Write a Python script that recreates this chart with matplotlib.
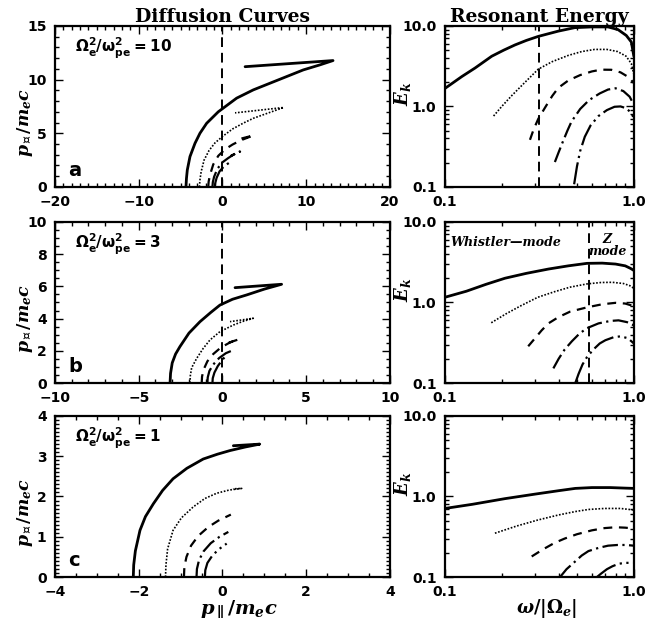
import numpy as np
import matplotlib
matplotlib.use("Agg")
import matplotlib.pyplot as plt
from matplotlib.ticker import MultipleLocator, FixedLocator, LogLocator, NullFormatter

plt.rcParams['font.family'] = 'DejaVu Sans'
plt.rcParams['font.weight'] = 'bold'
plt.rcParams['mathtext.fontset'] = 'custom'
plt.rcParams['mathtext.it'] = 'DejaVu Serif:italic:bold'
plt.rcParams['mathtext.rm'] = 'DejaVu Serif:bold'
plt.rcParams['mathtext.sf'] = 'DejaVu Sans:bold'
plt.rcParams['mathtext.bf'] = 'STIXGeneral:bold'
plt.rcParams['mathtext.fallback'] = 'stix'

# ---- diffusion curves (p_par, p_perp), each curve ends with its return hook
# panel a  (Omega_e^2/omega_pe^2 = 10)
a1_x = [-4.36, -4.3, -4.2, -3.88, -3.28, -2.69, -1.89, -0.5, 1.69, 3.68, 5.67, 7.66, 9.65, 11.64, 13.2, 2.7]
a1_y = [0.0, 0.8, 1.58, 2.83, 4.07, 5.0, 5.93, 7.0, 8.27, 9.04, 9.66, 10.28, 10.9, 11.37, 11.77, 11.2]
a2_x = [-2.75, -2.7, -2.55, -2.2, -1.6, -0.9, 0.0, 1.2, 2.5, 3.7, 5.5, 7.3, 1.5]
a2_y = [0.0, 0.6, 1.4, 2.5, 3.4, 4.1, 4.7, 5.4, 5.95, 6.4, 6.9, 7.4, 6.9]
a3_x = [-1.7, -1.65, -1.5, -1.1, -0.5, 0.3, 1.2, 2.2, 3.7, 1.7]
a3_y = [0.0, 0.5, 1.1, 2.1, 2.9, 3.5, 3.95, 4.35, 4.8, 4.4]
a4_x = [-1.2, -1.15, -1.0, -0.6, 0.0, 0.7, 1.4, 2.1, 1.0]
a4_y = [0.0, 0.45, 0.95, 1.7, 2.3, 2.7, 3.05, 3.3, 2.9]
a5_x = [-0.9, -0.85, -0.7, -0.35, 0.1, 0.6, 1.1]
a5_y = [0.0, 0.4, 0.85, 1.45, 1.85, 2.15, 2.4]

# panel b  (Omega_e^2/omega_pe^2 = 3)
b1_x = [-3.13, -3.1, -3.0, -2.8, -2.54, -2.0, -1.34, -0.7, -0.15, 0.6, 1.45, 2.5, 3.53, 0.75]
b1_y = [0.0, 0.6, 1.25, 1.8, 2.26, 3.1, 3.81, 4.38, 4.84, 5.2, 5.47, 5.83, 6.13, 5.92]
b2_x = [-1.94, -1.92, -1.84, -1.54, -1.15, -0.75, -0.15, 0.65, 1.2, 1.84, 0.45]
b2_y = [0.0, 0.45, 0.95, 1.53, 2.15, 2.67, 3.19, 3.6, 3.82, 4.02, 3.81]
b3_x = [-1.24, -1.22, -1.12, -0.9, -0.55, -0.1, 0.45, 0.94, 0.25]
b3_y = [0.0, 0.4, 0.85, 1.35, 1.8, 2.2, 2.52, 2.7, 2.46]
b4_x = [-0.9, -0.88, -0.78, -0.55, -0.2, 0.2, 0.65]
b4_y = [0.0, 0.35, 0.75, 1.15, 1.55, 1.85, 2.05]
b5_x = [-0.6, -0.58, -0.48, -0.28, 0.0, 0.25]
b5_y = [0.0, 0.3, 0.65, 1.05, 1.45, 1.74]

# panel c  (Omega_e^2/omega_pe^2 = 1)
c1_x = [-2.13, -2.12, -2.08, -1.97, -1.84, -1.65, -1.43, -1.18, -0.85, -0.46, -0.12, 0.18, 0.55, 0.89, 0.26]
c1_y = [0.0, 0.3, 0.65, 1.16, 1.5, 1.82, 2.15, 2.44, 2.7, 2.93, 3.05, 3.14, 3.23, 3.3, 3.26]
c2_x = [-1.36, -1.35, -1.31, -1.18, -0.98, -0.7, -0.42, -0.14, 0.16, 0.46, 0.25]
c2_y = [0.0, 0.3, 0.7, 1.16, 1.47, 1.74, 1.95, 2.08, 2.16, 2.2, 2.19]
c3_x = [-0.92, -0.91, -0.86, -0.75, -0.58, -0.34, -0.1, 0.2]
c3_y = [0.0, 0.25, 0.5, 0.78, 1.02, 1.24, 1.4, 1.55]
c4_x = [-0.62, -0.61, -0.56, -0.45, -0.28, -0.07, 0.14]
c4_y = [0.0, 0.2, 0.42, 0.64, 0.84, 1.0, 1.12]
c5_x = [-0.42, -0.41, -0.36, -0.25, -0.1, 0.1]
c5_y = [0.0, 0.17, 0.35, 0.52, 0.68, 0.83]

# ---- resonant energy (omega/|Omega_e|, E_k)
ra1_w = [0.1, 0.123, 0.1445, 0.177, 0.205, 0.235, 0.27, 0.312, 0.398, 0.486, 0.596, 0.73, 0.824, 0.912, 0.97, 1.0]
ra1_e = [1.67, 2.35, 3.0, 4.2, 5.0, 5.8, 6.6, 7.4, 8.6, 9.5, 9.7, 9.7, 9.0, 7.6, 6.3, 4.2]
ra2_w = [0.181, 0.2, 0.225, 0.26, 0.312, 0.37, 0.45, 0.53, 0.62, 0.72, 0.82, 0.91, 0.97, 1.0]
ra2_e = [0.76, 1.0, 1.35, 1.9, 2.9, 3.6, 4.3, 4.8, 5.1, 5.1, 4.8, 4.2, 3.4, 2.5]
ra3_w = [0.282, 0.295, 0.312, 0.34, 0.37, 0.398, 0.45, 0.52, 0.6, 0.67, 0.76, 0.85, 0.94, 1.0]
ra3_e = [0.385, 0.52, 0.7, 0.98, 1.35, 1.7, 2.1, 2.45, 2.72, 2.86, 2.85, 2.65, 2.3, 1.95]
ra4_w = [0.382, 0.4, 0.42, 0.445, 0.468, 0.52, 0.58, 0.66, 0.73, 0.8, 0.88, 0.95, 1.0]
ra4_e = [0.204, 0.27, 0.36, 0.5, 0.65, 0.93, 1.2, 1.45, 1.62, 1.68, 1.55, 1.32, 1.05]
ra5_w = [0.483, 0.5, 0.52, 0.55, 0.59, 0.65, 0.72, 0.79, 0.85, 0.91, 0.96, 1.0]
ra5_e = [0.108, 0.18, 0.28, 0.42, 0.58, 0.76, 0.9, 0.99, 1.0, 0.95, 0.85, 0.72]

rb1_w = [0.1, 0.13, 0.165, 0.208, 0.27, 0.353, 0.45, 0.565, 0.68, 0.8, 0.9, 0.96, 1.0]
rb1_e = [1.16, 1.38, 1.68, 2.0, 2.3, 2.6, 2.85, 3.06, 3.08, 3.0, 2.85, 2.65, 2.5]
rb2_w = [0.176, 0.21, 0.25, 0.31, 0.38, 0.46, 0.565, 0.67, 0.77, 0.88, 0.95, 1.0]
rb2_e = [0.56, 0.72, 0.9, 1.16, 1.36, 1.55, 1.7, 1.77, 1.78, 1.72, 1.62, 1.5]
rb3_w = [0.276, 0.3, 0.325, 0.353, 0.4, 0.46, 0.565, 0.68, 0.8, 0.9, 1.0]
rb3_e = [0.286, 0.36, 0.45, 0.55, 0.66, 0.77, 0.87, 0.95, 0.99, 0.97, 0.9]
rb4_w = [0.375, 0.4, 0.43, 0.47, 0.515, 0.565, 0.65, 0.75, 0.83, 0.92, 1.0]
rb4_e = [0.152, 0.2, 0.26, 0.33, 0.41, 0.48, 0.55, 0.59, 0.6, 0.57, 0.52]
rb5_w = [0.49, 0.51, 0.535, 0.565, 0.61, 0.66, 0.707, 0.78, 0.85, 0.93, 1.0]
rb5_e = [0.1, 0.13, 0.17, 0.21, 0.26, 0.31, 0.34, 0.37, 0.38, 0.36, 0.31]

rc1_w = [0.1, 0.14, 0.208, 0.3, 0.4, 0.49, 0.6, 0.75, 0.9, 1.0]
rc1_e = [0.71, 0.8, 0.94, 1.07, 1.18, 1.26, 1.29, 1.29, 1.27, 1.26]
rc2_w = [0.184, 0.24, 0.31, 0.4, 0.49, 0.575, 0.7, 0.85, 1.0]
rc2_e = [0.35, 0.43, 0.51, 0.59, 0.65, 0.69, 0.71, 0.71, 0.68]
rc3_w = [0.288, 0.33, 0.38, 0.43, 0.5, 0.6, 0.7, 0.8, 0.9, 1.0]
rc3_e = [0.18, 0.22, 0.265, 0.3, 0.34, 0.38, 0.405, 0.415, 0.41, 0.4]
rc4_w = [0.407, 0.44, 0.48, 0.53, 0.575, 0.65, 0.73, 0.82, 0.91, 1.0]
rc4_e = [0.1, 0.125, 0.15, 0.185, 0.21, 0.23, 0.245, 0.25, 0.25, 0.245]
rc5_w = [0.638, 0.67, 0.72, 0.77, 0.83, 0.9, 0.96, 1.0]
rc5_e = [0.1, 0.11, 0.125, 0.136, 0.146, 0.15, 0.15, 0.15]

ratios = ["10", "3", "1"]
letters = ["a", "b", "c"]
p_limits = [20, 10, 4]
perp_tops = [15, 10, 4]
x_major = [10, 5, 2]
x_minor = [1, 1, 0.5]
y_major = [5, 2, 1]
y_minor = [1, 0.5, 0.1]
w_cut = [0.316, 0.577, None]

diff_curves = [
    [(a1_x, a1_y), (a2_x, a2_y), (a3_x, a3_y), (a4_x, a4_y), (a5_x, a5_y)],
    [(b1_x, b1_y), (b2_x, b2_y), (b3_x, b3_y), (b4_x, b4_y), (b5_x, b5_y)],
    [(c1_x, c1_y), (c2_x, c2_y), (c3_x, c3_y), (c4_x, c4_y), (c5_x, c5_y)],
]
energy_curves = [
    [(ra1_w, ra1_e), (ra2_w, ra2_e), (ra3_w, ra3_e), (ra4_w, ra4_e), (ra5_w, ra5_e)],
    [(rb1_w, rb1_e), (rb2_w, rb2_e), (rb3_w, rb3_e), (rb4_w, rb4_e), (rb5_w, rb5_e)],
    [(rc1_w, rc1_e), (rc2_w, rc2_e), (rc3_w, rc3_e), (rc4_w, rc4_e), (rc5_w, rc5_e)],
]

styles = ["-", (0, (1, 1)), (0, (4, 3)), (0, (7, 2, 1, 2)), (0, (10, 2, 1, 2, 1, 2))]
widths = [2.0, 1.2, 1.6, 1.6, 1.6]

fig = plt.figure(figsize=(6.64, 6.22), dpi=100)
rows_y0 = [0.6994, 0.3842, 0.0723]
row_h = 0.259

for i in range(3):
    axl = fig.add_axes([0.0828, rows_y0[i], 0.5045, row_h])
    axr = fig.add_axes([0.670, rows_y0[i], 0.2846, row_h])

    # ---- left: diffusion curves
    for (xs, ys), ls, lw in zip(diff_curves[i], styles, widths):
        axl.plot(xs, ys, color="k", linestyle=ls, linewidth=lw,
                 solid_joinstyle="round", solid_capstyle="round")
    if i < 2:
        axl.plot([0, 0], [0, perp_tops[i]], color="k", linestyle=(0, (5, 3)), linewidth=1.4)
    axl.set_xlim(-p_limits[i], p_limits[i])
    axl.set_ylim(0, perp_tops[i])
    axl.xaxis.set_major_locator(MultipleLocator(x_major[i]))
    axl.xaxis.set_minor_locator(MultipleLocator(x_minor[i]))
    axl.yaxis.set_major_locator(MultipleLocator(y_major[i]))
    axl.yaxis.set_minor_locator(MultipleLocator(y_minor[i]))
    axl.set_ylabel(r"$p_{\mathbf{\perp}}/m_ec$", fontsize=12.5)
    axl.yaxis.set_label_coords(-0.06, 0.40)
    axl.text(0.06, 0.86, r"$\mathsf{\Omega_e^2/\omega_{pe}^2=%s}$" % ratios[i],
             transform=axl.transAxes, fontsize=11, va="center", ha="left")
    axl.text(0.04, 0.10, letters[i], transform=axl.transAxes, fontsize=14,
             fontweight="bold", va="center", ha="left")

    # ---- right: resonant energy
    for (ws, es), ls, lw in zip(energy_curves[i], styles, widths):
        axr.plot(ws, es, color="k", linestyle=ls, linewidth=lw,
                 solid_joinstyle="round", solid_capstyle="round")
    if w_cut[i] is not None:
        axr.plot([w_cut[i], w_cut[i]], [0.1, 10], color="k", linestyle=(0, (5, 3)), linewidth=1.4)
    axr.set_xscale("log")
    axr.set_yscale("log")
    axr.set_xlim(0.1, 1.0)
    axr.set_ylim(0.1, 10.0)
    axr.xaxis.set_major_locator(FixedLocator([0.1, 1.0]))
    axr.set_xticklabels(["0.1", "1.0"])
    axr.xaxis.set_minor_locator(LogLocator(base=10, subs=np.arange(2, 10)))
    axr.xaxis.set_minor_formatter(NullFormatter())
    axr.yaxis.set_major_locator(FixedLocator([0.1, 1.0, 10.0]))
    axr.set_yticklabels(["0.1", "1.0", "10.0"])
    axr.yaxis.set_minor_locator(LogLocator(base=10, subs=np.arange(2, 10)))
    axr.yaxis.set_minor_formatter(NullFormatter())
    axr.set_ylabel(r"$E_k$", fontsize=13)
    axr.yaxis.set_label_coords(-0.17, 0.58)

    for ax in (axl, axr):
        ax.tick_params(which="both", direction="in", top=True, right=True,
                       labelsize=10, width=1.0)
        ax.tick_params(which="major", length=6, pad=6)
        ax.tick_params(which="minor", length=3)
        for sp in ax.spines.values():
            sp.set_linewidth(1.6)

    if i == 0:
        axl.set_title("Diffusion Curves", fontsize=13.5, fontweight="bold",
                      family="DejaVu Serif", pad=3)
        axr.set_title("Resonant Energy", fontsize=13.5, fontweight="bold",
                      family="DejaVu Serif", pad=3)
    if i == 1:
        axr.text(0.03, 0.87, "Whistler\u2014mode", transform=axr.transAxes,
                 fontsize=9, fontstyle="italic", fontweight="bold",
                 family="DejaVu Serif", va="center", ha="left")
        axr.text(0.86, 0.93, "Z\nmode", transform=axr.transAxes,
                 fontsize=9, fontstyle="italic", fontweight="bold",
                 family="DejaVu Serif", va="top", ha="center", linespacing=0.9)
    if i == 2:
        axl.set_xlabel(r"$p_\parallel/m_ec$", fontsize=14)
        axl.xaxis.set_label_coords(0.55, -0.135)
        axr.set_xlabel(r"$\omega/|\Omega_e|$", fontsize=13)
        axr.xaxis.set_label_coords(0.54, -0.125)

fig.savefig("out.png", dpi=100)
